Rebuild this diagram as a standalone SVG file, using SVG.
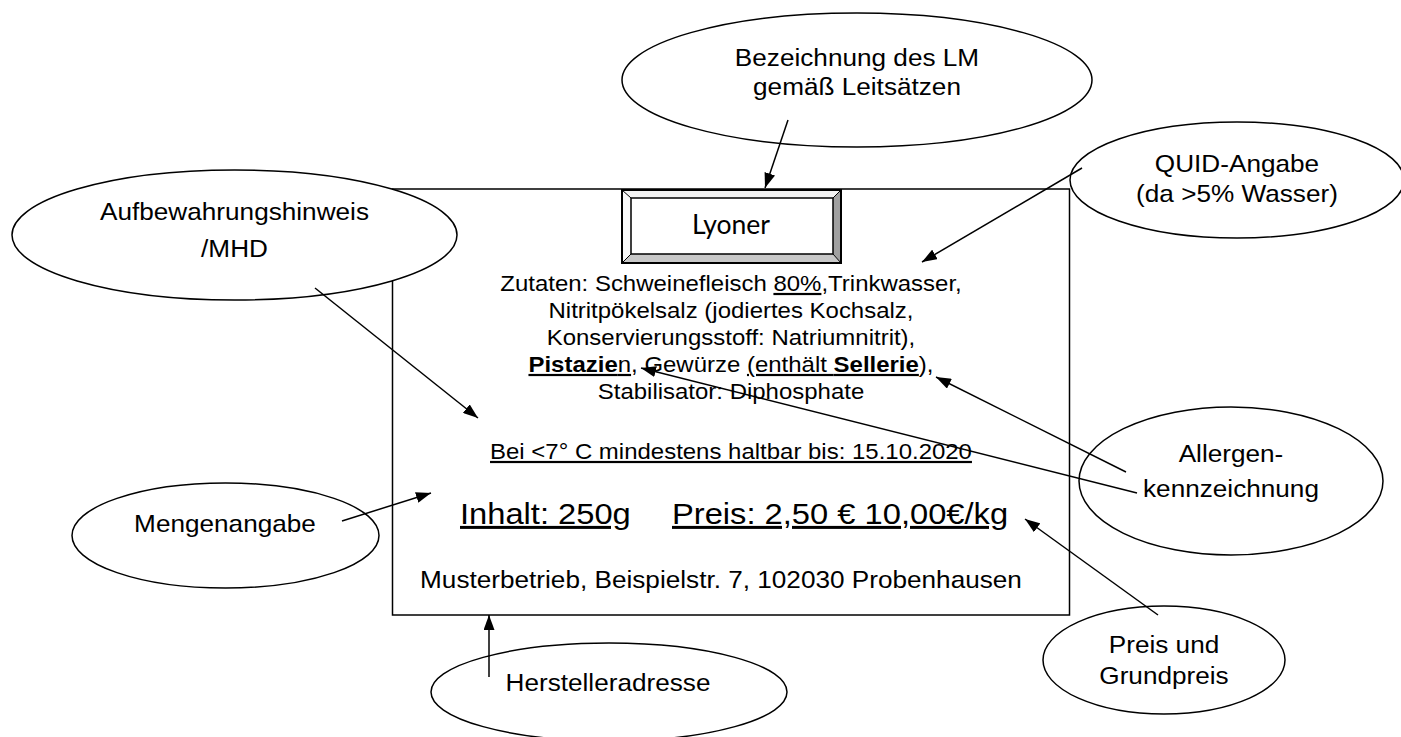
<svg xmlns="http://www.w3.org/2000/svg" width="1401" height="737" viewBox="0 0 1401 737">
<defs>
<style>
.t{font-family:"Liberation Sans",Arial,sans-serif;fill:#000}
.m{text-anchor:middle}
.lbl{font-size:24px}
.z{font-size:22px}
.el{fill:#fff;stroke:#000;stroke-width:1.5}
.u{text-decoration:underline}
.b{font-weight:bold}
#connectors line{stroke:#000;stroke-width:1.5;marker-end:url(#ah)}
</style>
<marker id="ah" markerUnits="userSpaceOnUse" markerWidth="15" markerHeight="11" refX="15" refY="5.5" orient="auto">
<path d="M0,0 L15,5.5 L0,11 z" fill="#000"/>
</marker>
</defs>
<rect width="1401" height="737" fill="#fff"/>

<g id="label">
<rect x="392.5" y="189" width="677" height="426" fill="#fff" stroke="#000" stroke-width="1.5"/>
<g id="lyoner">
<polygon points="622,190 841,190 833,198 631,198" fill="#f2f2f2"/>
<polygon points="622,190 631,198 631,254 622,263" fill="#fafafa"/>
<polygon points="841,190 841,263 833,254 833,198" fill="#a0a0a0"/>
<polygon points="622,263 841,263 833,254 631,254" fill="#c8c8c8"/>
<g stroke="#000" stroke-width="1">
<line x1="622" y1="190" x2="631" y2="198"/>
<line x1="841" y1="190" x2="833" y2="198"/>
<line x1="622" y1="263" x2="631" y2="254"/>
<line x1="841" y1="263" x2="833" y2="254"/>
</g>
<rect x="622" y="190" width="219" height="73" fill="none" stroke="#000" stroke-width="2"/>
<rect x="631" y="198" width="202" height="56" fill="#fff" stroke="#000" stroke-width="1.5"/>
<text x="731" y="234" font-family="Lato,'Open Sans',sans-serif" font-size="27" text-anchor="middle" textLength="78" lengthAdjust="spacingAndGlyphs">Lyoner</text>
</g>
<g class="t z m" transform="matrix(1.09 0 0 1 -65.79 0)">
<text x="731" y="291">Zutaten: Schweinefleisch <tspan class="u">80%</tspan>,Trinkwasser,</text>
<text x="731" y="318">Nitritpökelsalz (jodiertes Kochsalz,</text>
<text x="731" y="345">Konservierungsstoff: Natriumnitrit),</text>
<text x="731" y="372"><tspan class="u"><tspan class="b">Pistazie</tspan>n</tspan>, Gewürze <tspan class="u">(enthält <tspan class="b">Sellerie</tspan></tspan>),</text>
<text x="731" y="399">Stabilisator: Diphosphate</text>
<text x="731" y="459" class="u">Bei &lt;7° C mindestens haltbar bis: 15.10.2020</text>
</g>
<text class="t u" x="460" y="524" font-size="30" transform="matrix(1.09 0 0 1 -41.4 0)">Inhalt: 250g</text>
<text class="t u" x="672" y="524" font-size="30" transform="matrix(1.09 0 0 1 -60.48 0)">Preis: 2,50 € 10,00€/kg</text>
<text class="t m" x="721" y="588" font-size="24" transform="matrix(1.09 0 0 1 -64.89 0)">Musterbetrieb, Beispielstr. 7, 102030 Probenhausen</text>
</g>

<g id="bezeichnung">
<ellipse class="el" cx="857" cy="80" rx="235" ry="67"/>
<g class="t lbl m" transform="matrix(1.09 0 0 1 -77.13 0)">
<text x="857" y="66">Bezeichnung des LM</text>
<text x="857" y="95">gemäß Leitsätzen</text>
</g>
</g>

<g id="quid">
<ellipse class="el" cx="1237" cy="180" rx="167" ry="58"/>
<g class="t lbl m" transform="matrix(1.09 0 0 1 -111.33 0)">
<text x="1237" y="172">QUID-Angabe</text>
<text x="1237" y="202">(da &gt;5% Wasser)</text>
</g>
</g>

<g id="aufbewahrung">
<ellipse class="el" cx="234.5" cy="235" rx="222.5" ry="65"/>
<g class="t lbl m" transform="matrix(1.09 0 0 1 -21.1 0)">
<text x="234.5" y="220">Aufbewahrungshinweis</text>
<text x="234.5" y="257">/MHD</text>
</g>
</g>

<g id="mengenangabe">
<ellipse class="el" cx="225.5" cy="535.5" rx="153.5" ry="52.5"/>
<text class="t lbl m" x="225" y="532" transform="matrix(1.09 0 0 1 -20.25 0)">Mengenangabe</text>
</g>

<g id="hersteller">
<ellipse class="el" cx="609" cy="692" rx="178" ry="49"/>
<text class="t lbl m" x="608" y="691" transform="matrix(1.09 0 0 1 -54.72 0)">Herstelleradresse</text>
</g>

<g id="allergen">
<ellipse class="el" cx="1231" cy="481" rx="152" ry="74"/>
<g class="t lbl m" transform="matrix(1.09 0 0 1 -110.79 0)">
<text x="1231" y="462">Allergen-</text>
<text x="1231" y="497">kennzeichnung</text>
</g>
</g>

<g id="preis">
<ellipse class="el" cx="1164" cy="660" rx="121" ry="54"/>
<g class="t lbl m" transform="matrix(1.09 0 0 1 -104.76 0)">
<text x="1164" y="653">Preis und</text>
<text x="1164" y="684">Grundpreis</text>
</g>
</g>

<g id="connectors">
<line x1="788" y1="120" x2="765" y2="188"/>
<line x1="1082" y1="168" x2="922" y2="262"/>
<line x1="315" y1="288" x2="478" y2="418"/>
<line x1="342" y1="521" x2="431" y2="493"/>
<line x1="489" y1="677" x2="489" y2="615"/>
<line x1="1126" y1="472" x2="936" y2="377"/>
<line x1="1137" y1="493" x2="641" y2="368"/>
<line x1="1158" y1="615" x2="1025" y2="519"/>
</g>
</svg>
